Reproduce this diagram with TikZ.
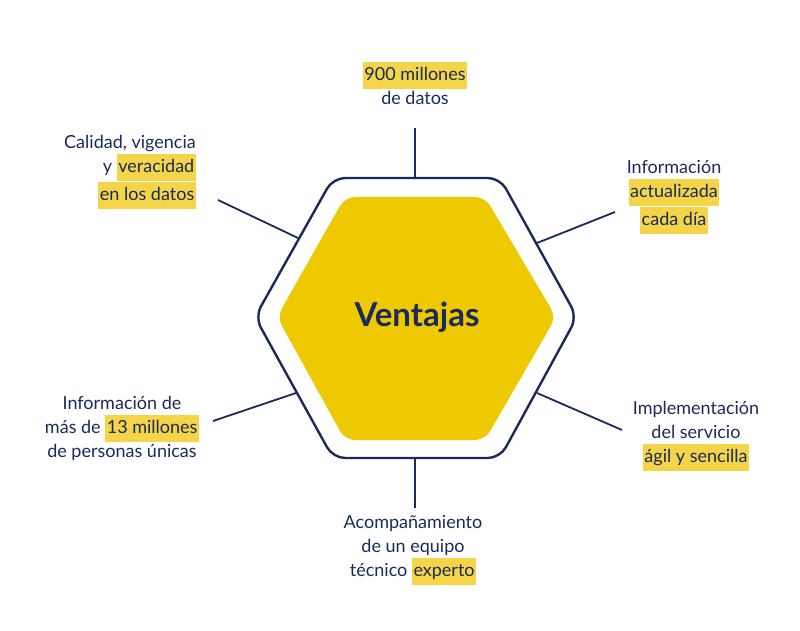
\documentclass[tikz,border=0pt]{standalone}
\usepackage{fontspec}
\setmainfont{Lato}
\usetikzlibrary{positioning}
\definecolor{navy}{HTML}{1B2A5C}
\definecolor{gold}{HTML}{EEC900}
\definecolor{mark}{HTML}{F4D548}
\newcommand{\hl}[1]{{\setlength{\fboxsep}{1.5pt}\colorbox{mark}{\strut #1}}}
\tikzset{label text/.style={text=navy,font=\fontsize{18}{24}\selectfont,inner sep=0pt}}
\tikzset{spoke/.style={draw=navy,line width=1.8pt}}
\begin{document}
\begin{tikzpicture}[x=1pt,y=-1pt]
\useasboundingbox (0,0) rectangle (800,631);

% hexagons
\draw[navy,line width=2.4pt,fill=white,rounded corners=12pt]
 (333,178) -- (500,178) -- (577,317) -- (500,458) -- (333,458) -- (255,317) -- cycle;
\fill[gold,rounded corners=10pt]
 (345,197) -- (485,197) -- (556,317) -- (485,440) -- (345,440) -- (277,317) -- cycle;
\node[text=navy,font=\fontsize{33}{38}\selectfont\bfseries] (title) at (417,317) {Ventajas};

% spoke ends on the hexagon
\coordinate (hT) at (415,178);
\coordinate (hUR) at (537,243);
\coordinate (hLR) at (537,393);
\coordinate (hB) at (415,458);
\coordinate (hLL) at (296,393);
\coordinate (hUL) at (298,238);
\coordinate (eT) at (415,128);
\coordinate (eUR) at (615,212);
\coordinate (eLR) at (622,430);
\coordinate (eB) at (415,508);
\coordinate (eLL) at (213,421);
\coordinate (eUL) at (218,200);

\draw[spoke] (hT) -- (eT);
\draw[spoke] (hUR) -- (eUR);
\draw[spoke] (hLR) -- (eLR);
\draw[spoke] (hB) -- (eB);
\draw[spoke] (hLL) -- (eLL);
\draw[spoke] (hUL) -- (eUL);

% texts
\node[label text,align=center] (datos) at (415,83) {\hl{900 millones}\\de datos};
\node[label text,align=right] (calidad) at (130,172) {Calidad, vigencia\\y \hl{veracidad}\\\hl{en los datos}};
\node[label text,align=center] (info) at (674,197) {Información\\\hl{actualizada}\\\hl{cada día}};
\node[label text,align=center] (personas) at (122,428) {Información de\\más de \hl{13 millones}\\de personas únicas};
\node[label text,align=center] (servicio) at (696,436) {Implementación\\del servicio\\\hl{ágil y sencilla}};
\node[label text,align=center] (equipo) at (413,550) {Acompañamiento\\de un equipo\\técnico \hl{experto}};
\end{tikzpicture}
\end{document}
